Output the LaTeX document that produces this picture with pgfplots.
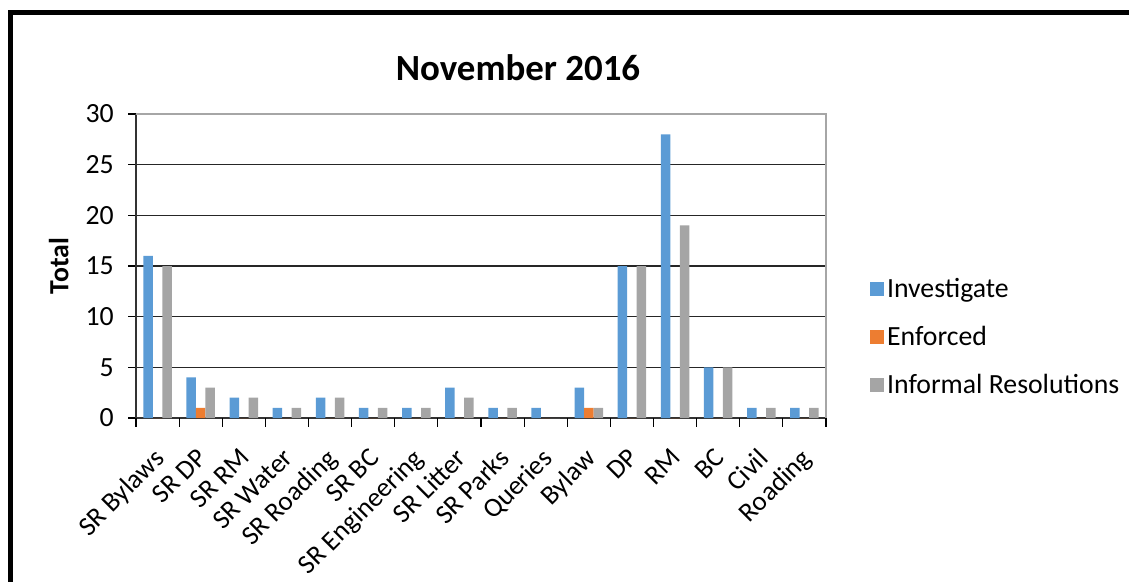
\documentclass[border=0pt]{standalone}
\usepackage{pgfplots}
\pgfplotsset{compat=1.18}
\usepackage{fontspec}
\setmainfont{Carlito}

\definecolor{invBlue}{HTML}{5B9BD5}
\definecolor{enfOrange}{HTML}{ED7D31}
\definecolor{infGray}{HTML}{A5A5A5}
\definecolor{frameGray}{HTML}{A6A6A6}

% Category, Investigate, Enforced, Informal Resolutions
\pgfplotstableread{
x inv enf inf
0 16 0 15
1 4 1 3
2 2 0 2
3 1 0 1
4 2 0 2
5 1 0 1
6 1 0 1
7 3 0 2
8 1 0 1
9 1 0 0
10 3 1 1
11 15 0 15
12 28 0 19
13 5 0 5
14 1 0 1
15 1 0 1
}\datatable

\newcommand{\bodyfont}{\fontsize{15.8}{18}\selectfont}
\newcommand{\catfont}{\fontsize{15.4}{18}\selectfont}

\begin{document}
\begin{tikzpicture}
\useasboundingbox (0,0) rectangle (22.58cm,11.62cm);
% chart frame (top and left edges)
\draw[line width=0.1cm] (0.21cm,-0.4cm) -- (0.21cm,11.37cm) -- (23cm,11.37cm);

\begin{axis}[
  at={(2.72cm,3.26cm)}, anchor=south west,
  scale only axis, width=13.8cm, height=6.08cm,
  ybar=0pt, bar width=0.19cm,
  xmin=-0.5, xmax=15.5, ymin=0, ymax=30,
  ytick={0,5,...,30},
  xtick={0,...,15},
  xticklabels={SR Bylaws,SR DP,SR RM,SR Water,SR Roading,SR BC,SR Engineering,SR Litter,SR Parks,Queries,Bylaw,DP,RM,BC,Civil,Roading},
  xtick style={draw=none},
  tick align=outside, xtick pos=bottom, ytick pos=left,
  major tick length=0.16cm,
  ytick style={black, line width=0.6pt},
  axis x line*=bottom, axis y line*=left,
  axis line style={line width=1.1pt, black!80},
  ymajorgrids, grid style={black!85, line width=0.6pt},
  /pgf/number format/assume math mode=true,
  ticklabel style={font=\bodyfont},
  xticklabel style={font=\catfont, xshift=-0.1cm, yshift=-0.36cm, rotate=45, anchor=north east, inner sep=1pt},
  yticklabel style={xshift=-0.16cm},
  ylabel={\textbf{Total}}, ylabel style={font=\bodyfont, yshift=0.1cm},
  legend style={draw=none, at={(1.055,0.485)}, anchor=north west,
    font=\bodyfont, row sep=0.38cm, cells={anchor=west},
    /tikz/every even column/.append style={column sep=0.16cm}},
  legend image code/.code={\fill[#1] (0cm,-0.14cm) rectangle (0.28cm,0.14cm);},
  clip=false,
]
\addplot[fill=invBlue, draw=none] table[x=x,y=inv]{\datatable};
\addplot[fill=enfOrange, draw=none] table[x=x,y=enf]{\datatable};
\addplot[fill=infGray, draw=none] table[x=x,y=inf]{\datatable};
\legend{Investigate,Enforced,Informal Resolutions}
% category boundary ticks below the x axis
\pgfplotsinvokeforeach{-0.5,0.5,...,15.5}{
  \draw[black, line width=0.6pt] (axis cs:#1,0) -- ++(0pt,-0.18cm);
}
% plot-area border on top and right
\draw[frameGray, line width=1.2pt] (rel axis cs:0,1) -- (rel axis cs:1,1) -- (rel axis cs:1,0);
\end{axis}

\node[font=\fontsize{21}{24}\selectfont\bfseries] at (10.36cm,10.26cm) {November 2016};
\end{tikzpicture}
\end{document}
